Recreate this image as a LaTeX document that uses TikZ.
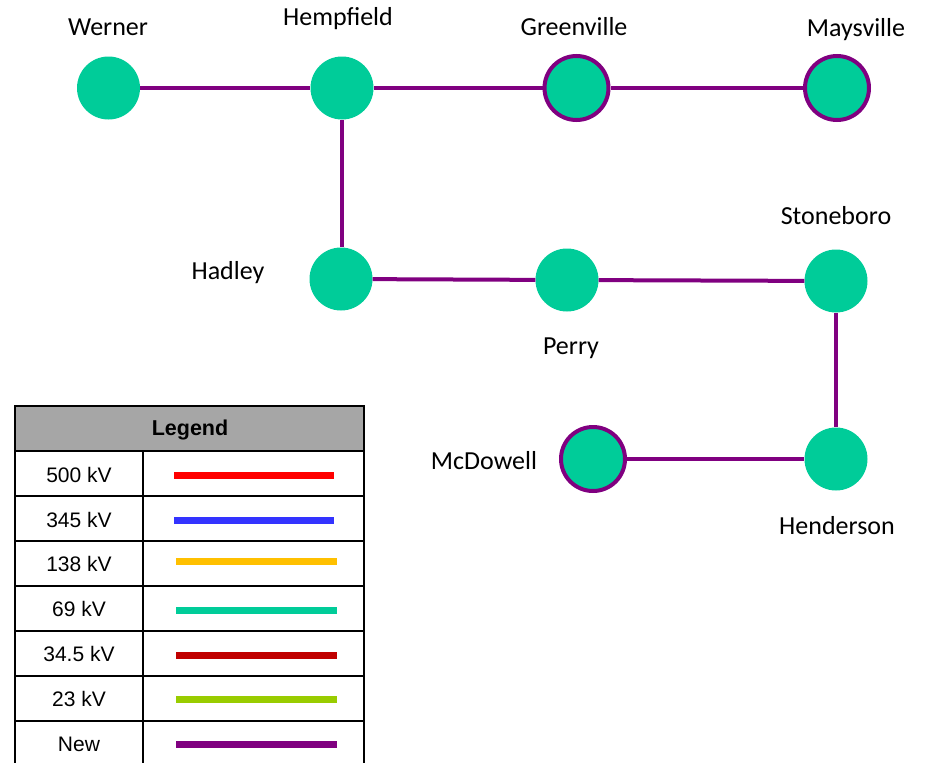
\documentclass[tikz,border=0pt]{standalone}
\usepackage{fontspec}
\setmainfont{Liberation Sans}
\newfontfamily\calfont{Carlito}
\definecolor{teal69}{HTML}{00CC99}
\definecolor{newpurple}{HTML}{800080}
\definecolor{hdrgray}{HTML}{A6A6A6}
\definecolor{kvA}{HTML}{FF0000}
\definecolor{kvB}{HTML}{3333FF}
\definecolor{kvC}{HTML}{FFC000}
\definecolor{kvD}{HTML}{00CC99}
\definecolor{kvE}{HTML}{C00000}
\definecolor{kvF}{HTML}{99CC00}
\definecolor{kvG}{HTML}{800080}
\begin{document}
\begin{tikzpicture}[x=1pt,y=-1pt,
  bus/.style={circle,fill=teal69,minimum size=63pt,inner sep=0pt},
  newbus/.style={circle,fill=teal69,draw=newpurple,line width=4pt,minimum size=64pt,inner sep=0pt},
  lbl/.style={font=\calfont\fontsize{26}{30}\selectfont,inner sep=0pt},
  line/.style={draw=newpurple,line width=4pt},
  leg/.style={font=\fontsize{21}{25}\selectfont,inner sep=0pt},
  legline/.style={line width=7pt},
  grid/.style={line width=2pt,draw=black}]
\useasboundingbox (0,0) rectangle (930,763);
\clip (0,0) rectangle (930,763);
% buses
\node[bus] (werner) at (108.5,88) {};
\node[bus] (hempfield) at (342,88) {};
\node[newbus] (greenville) at (576.5,88) {};
\node[newbus] (maysville) at (837,88) {};
\node[bus] (hadley) at (341,279) {};
\node[bus] (perry) at (567,280) {};
\node[bus] (stoneboro) at (836,281) {};
\node[bus] (henderson) at (836,459) {};
\node[newbus] (mcdowell) at (593,459) {};
% lines
\draw[line] (werner) -- (hempfield);
\draw[line] (hempfield) -- (greenville);
\draw[line] (greenville) -- (maysville);
\draw[line] (hempfield.south) -- (hempfield.south |- hadley.north);
\draw[line] (hadley) -- (perry);
\draw[line] (perry) -- (stoneboro);
\draw[line] (stoneboro) -- (henderson);
\draw[line] (mcdowell) -- (henderson);
% labels
\node[lbl] (tw) at (108,27) {Werner};
\node[lbl] (th) at (338,19) {Hempfield};
\node[lbl] (tg) at (574,27) {Greenville};
\node[lbl] (tm) at (856,30) {Maysville};
\node[lbl] (ts) at (836,216) {Stoneboro};
\node[lbl] (thd) at (228,273) {Hadley};
\node[lbl] (tp) at (571,348) {Perry};
\node[lbl] (tmc) at (484,461) {McDowell};
\node[lbl] (the) at (837,526) {Henderson};
% legend
\fill[hdrgray] (15,406) rectangle (364,451);
\draw[grid] (15,406) rectangle (364,800);
\foreach \yy in {451,496,541,586,631,676,721} {\draw[grid] (15,\yy) -- (364,\yy);}
\draw[grid] (143,451) -- (143,800);
\node[leg,font=\bfseries\fontsize{21.5}{25}\selectfont] (lh) at (190,430) {Legend};
\node[leg] (l1) at (79,475) {500 kV};
\node[leg] (l2) at (79,520) {345 kV};
\node[leg] (l3) at (79,564) {138 kV};
\node[leg] (l4) at (79,609) {69 kV};
\node[leg] (l5) at (79,654) {34.5 kV};
\node[leg] (l6) at (79,699) {23 kV};
\node[leg] (l7) at (79,744) {New};
\coordinate (a1) at (174,475); \coordinate (b1) at (334,475);
\coordinate (a2) at (174,520); \coordinate (b2) at (334,520);
\coordinate (a3) at (176,561); \coordinate (b3) at (337,561);
\coordinate (a4) at (176,610); \coordinate (b4) at (337,610);
\coordinate (a5) at (176,655); \coordinate (b5) at (337,655);
\coordinate (a6) at (176,699); \coordinate (b6) at (337,699);
\coordinate (a7) at (176,744); \coordinate (b7) at (337,744);
\draw[legline,kvA] (a1) -- (b1);
\draw[legline,kvB] (a2) -- (b2);
\draw[legline,kvC] (a3) -- (b3);
\draw[legline,kvD] (a4) -- (b4);
\draw[legline,kvE] (a5) -- (b5);
\draw[legline,kvF] (a6) -- (b6);
\draw[legline,kvG] (a7) -- (b7);
\end{tikzpicture}
\end{document}
